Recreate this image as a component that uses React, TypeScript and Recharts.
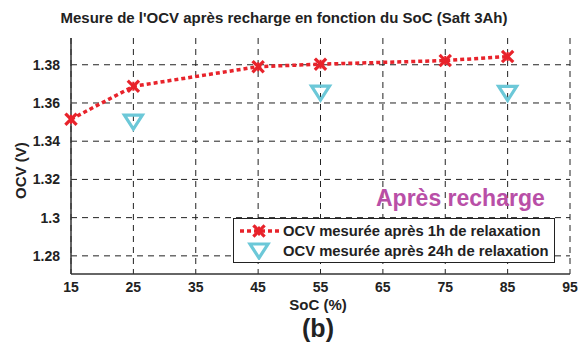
import React from 'react';
import {
    LineChart,
    Line,
    XAxis,
    YAxis,
    CartesianGrid
} from 'recharts';

// SoC (%) values
const soc = [15, 25, 45, 55, 75, 85];
// OCV after 1h relaxation
const ocv1h = [1.3515, 1.3687, 1.379, 1.3803, 1.3822, 1.3843];
// OCV after 24h relaxation (only measured at some SoC points)
const ocv24h: (number | null)[] = [null, 1.3505, null, 1.3657, null, 1.3655];

const xTicks = [15, 25, 35, 45, 55, 65, 75, 85, 95];
const yTicks = [1.28, 1.3, 1.32, 1.34, 1.36, 1.38];

const data = soc.map((s, i) => ({ soc: s, v1: ocv1h[i], v24: ocv24h[i] }));

const RED = '#E8232B';
const CYAN = '#6CC8D8';
const FONT = '"Liberation Sans", Arial, sans-serif';

const CrossDot = (props: any) => {
    const { cx, cy } = props;
    if (cx == null || cy == null) return null;
    const s = 4.5;
    return (
        <g stroke={RED} strokeWidth={3.2} strokeLinecap="square">
            <line x1={cx - s} y1={cy - s} x2={cx + s} y2={cy + s} />
            <line x1={cx - s} y1={cy + s} x2={cx + s} y2={cy - s} />
            <line x1={cx} y1={cy - s} x2={cx} y2={cy + s} strokeWidth={2} strokeLinecap="butt" />
        </g>
    );
};

const TriangleDot = (props: any) => {
    const { cx, cy, value } = props;
    if (cx == null || cy == null || value == null) return null;
    return (
        <path
            d={`M${cx - 9},${cy - 6} L${cx + 9},${cy - 6} L${cx},${cy + 8} Z`}
            fill="none"
            stroke={CYAN}
            strokeWidth={3.2}
            strokeLinejoin="miter"
        />
    );
};

export default function App() {
    const tick = { fontSize: 14, fontWeight: 'bold', fill: '#222', fontFamily: FONT };
    return (
        <div style={{ position: 'absolute', left: 0, top: 0, width: 587, height: 351, background: '#fff', fontFamily: FONT, color: '#222' }}>
            <div style={{ position: 'absolute', left: 0, width: 568, top: 9, textAlign: 'center', fontSize: 15, fontWeight: 'bold', whiteSpace: 'nowrap' }}>
                Mesure de l'OCV après recharge en fonction du SoC (Saft 3Ah)
            </div>
            <LineChart
                width={587}
                height={351}
                data={data}
                margin={{ top: 38, right: 17, bottom: 47, left: 0 }}
            >
                <CartesianGrid
                    stroke="#222"
                    strokeDasharray="6 5"
                    strokeWidth={1}
                    horizontalValues={yTicks}
                    verticalValues={xTicks}
                />
                <XAxis
                    dataKey="soc"
                    type="number"
                    domain={[15, 95]}
                    ticks={xTicks}
                    tick={tick}
                    tickLine={false}
                    axisLine={{ stroke: '#333', strokeWidth: 1.5 }}
                    height={30}
                    tickMargin={2}
                />
                <XAxis
                    xAxisId="top"
                    orientation="top"
                    dataKey="soc"
                    type="number"
                    domain={[15, 95]}
                    ticks={xTicks}
                    tick={false}
                    tickLine={false}
                    axisLine={{ stroke: '#333', strokeWidth: 1.5 }}
                    height={0}
                />
                <YAxis
                    type="number"
                    domain={[1.2705, 1.394]}
                    ticks={yTicks}
                    allowDataOverflow
                    tick={tick}
                    tickLine={false}
                    axisLine={{ stroke: '#333', strokeWidth: 1.5 }}
                    width={71}
                    tickMargin={5}
                    tickFormatter={(v: number) => String(Number(v.toFixed(2)))}
                />
                <YAxis
                    yAxisId="right"
                    orientation="right"
                    type="number"
                    domain={[1.2705, 1.394]}
                    ticks={yTicks}
                    allowDataOverflow
                    tick={false}
                    tickLine={false}
                    axisLine={{ stroke: '#555', strokeWidth: 2 }}
                    width={0}
                />
                <Line
                    dataKey="v1"
                    stroke={RED}
                    strokeWidth={3.5}
                    strokeDasharray="4 3"
                    dot={<CrossDot />}
                    activeDot={false}
                    isAnimationActive={false}
                />
                <Line
                    dataKey="v24"
                    stroke="none"
                    dot={<TriangleDot />}
                    activeDot={false}
                    connectNulls={false}
                    isAnimationActive={false}
                />
            </LineChart>
            <div style={{ position: 'absolute', left: 0, width: 636, top: 296, textAlign: 'center', fontSize: 15, fontWeight: 'bold' }}>
                SoC (%)
            </div>
            <div style={{ position: 'absolute', left: -4, top: 165, width: 50, height: 18, lineHeight: '18px', textAlign: 'center', fontSize: 15, fontWeight: 'bold', transform: 'rotate(-90deg)', whiteSpace: 'nowrap' }}>
                OCV (V)
            </div>
            <div style={{ position: 'absolute', left: 376, top: 185, fontSize: 23, fontWeight: 'bold', color: '#B94FA7', whiteSpace: 'nowrap' }}>
                Après recharge
            </div>
            <div style={{ position: 'absolute', left: 233, top: 218, width: 320, height: 43, border: '1px solid #222', background: '#fff', fontSize: 14.8, fontWeight: 'bold', whiteSpace: 'nowrap' }}>
                <div style={{ position: 'absolute', left: 4, top: 3, display: 'flex', alignItems: 'center', height: 18 }}>
                    <svg width={44} height={16}>
                        <line x1={2} y1={8} x2={42} y2={8} stroke={RED} strokeWidth={3.5} strokeDasharray="4 3" />
                        <CrossDot cx={21} cy={8} />
                    </svg>
                    <span style={{ marginLeft: 1 }}>OCV mesurée après 1h de relaxation</span>
                </div>
                <div style={{ position: 'absolute', left: 4, top: 23, display: 'flex', alignItems: 'center', height: 18 }}>
                    <svg width={44} height={18}>
                        <TriangleDot cx={21} cy={8} value={1} />
                    </svg>
                    <span style={{ marginLeft: 1 }}>OCV mesurée après 24h de relaxation</span>
                </div>
            </div>
            <div style={{ position: 'absolute', left: 0, width: 636, top: 314, textAlign: 'center', fontSize: 25, fontWeight: 'bold' }}>
                (b)
            </div>
        </div>
    );
}
